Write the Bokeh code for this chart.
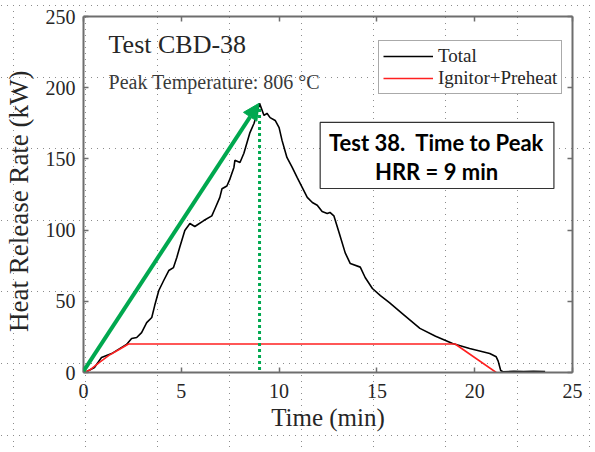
import base64
from bokeh.plotting import figure
from bokeh.models import (LinearAxis, Range1d, Legend, LegendItem, Label,
                          BoxAnnotation, Arrow, NormalHead)
from bokeh.embed import file_html
from bokeh.resources import INLINE

# ---------------- data ----------------
time_total = [0.0, 0.15, 0.56, 0.92, 1.44, 1.85, 2.2, 2.46, 2.72, 2.97, 3.23, 3.49,
              3.64, 3.85, 4.1, 4.36, 4.6, 4.77, 4.92, 5.18, 5.44, 5.69, 6.15, 6.56,
              6.72, 6.97, 7.08, 7.33, 7.49, 7.69, 7.74, 8.0, 8.2, 8.36, 8.51, 8.72,
              8.87, 9.0, 9.23, 9.38, 9.54, 9.8, 10.0, 10.15, 10.4, 10.67, 10.92,
              11.18, 11.44, 11.7, 11.95, 12.2, 12.46, 12.6, 12.8, 13.08, 13.38,
              13.64, 14.15, 14.4, 14.77, 15.18, 15.64, 16.3, 17.2, 18.0, 18.87,
              19.74, 20.77, 21.1, 21.2, 21.33, 21.44, 22.0, 22.5, 23.0, 23.6]
hrr_total = [0.0, 0.5, 3.5, 10.5, 13.3, 16.8, 19.7, 23.9, 24.6, 28.0, 35.0, 38.6,
             47.0, 57.6, 64.6, 71.6, 73.7, 80.8, 88.0, 99.7, 104.6, 102.5, 106.7,
             110.0, 115.0, 123.0, 129.0, 131.0, 136.0, 144.0, 149.0, 147.5, 154.0,
             161.5, 168.5, 175.0, 182.0, 189.0, 180.5, 182.0, 179.0, 177.0, 172.0,
             163.0, 151.0, 144.0, 137.0, 130.0, 123.0, 119.4, 117.5, 113.0, 111.7,
             112.4, 110.0, 97.6, 84.0, 76.5, 74.0, 66.7, 59.0, 54.0, 49.0, 41.4,
             31.0, 25.5, 20.4, 16.9, 13.3, 11.0, 8.0, 1.4, 0.5, 0.8, 0.6, 0.9, 0.6]

time_ign = [0.0, 0.3, 0.8, 1.3, 1.8, 2.3, 19.0, 21.1]
hrr_ign = [0.0, 1.5, 7.0, 12.0, 16.0, 20.0, 20.0, 0.0]

x_ticks = [0, 5, 10, 15, 20, 25]
y_ticks = [0, 50, 100, 150, 200, 250]

peak_time = 9.0
peak_hrr = 189.0

title_text = "Test CBD-38"
peak_temp_text = "Peak Temperature: 806 \u00b0C"
note_line1 = "Test 38.\u00a0 Time to Peak"
note_line2 = "HRR = 9 min"

# ---------------- styles ----------------
GREEN = "#00A84F"
AXIS_COL = "#6e6e6e"
TXT_COL = "#262626"
SERIF = "Liberation Serif"

# dotted overlay grid of the source picture, as a css background tile
tile = ("<svg xmlns='http://www.w3.org/2000/svg' width='72' height='72'>"
        "<line x1='0.5' y1='0' x2='0.5' y2='72' stroke='rgb(140,140,140)' "
        "stroke-width='1' stroke-dasharray='1 5'/>"
        "<line x1='0' y1='0.5' x2='72' y2='0.5' stroke='rgb(140,140,140)' "
        "stroke-width='1' stroke-dasharray='1 5'/></svg>")
b64 = base64.b64encode(tile.encode()).decode()

p = figure(width=595, height=452, x_range=Range1d(0, 25), y_range=Range1d(0, 250),
           output_backend="svg", toolbar_location=None,
           min_border_left=82, min_border_right=23, min_border_top=16,
           min_border_bottom=80)
p.styles = {"background-image": f"url(data:image/svg+xml;base64,{b64})",
            "background-size": "72px 71.6px",
            "background-position": "13px 5px",
            "background-repeat": "repeat"}
p.border_fill_alpha = 0
p.background_fill_alpha = 0
p.outline_line_color = None
p.grid.visible = False


def style_axis(ax, labels=True):
    ax.axis_line_color = AXIS_COL
    ax.axis_line_width = 2
    ax.major_tick_line_color = AXIS_COL
    ax.major_tick_line_width = 1.5
    ax.major_tick_in = 5
    ax.major_tick_out = 0
    ax.minor_tick_in = 0
    ax.minor_tick_out = 0
    ax.minor_tick_line_color = None
    if labels:
        ax.major_label_text_font = SERIF
        ax.major_label_text_font_size = "20px"
        ax.major_label_text_color = TXT_COL
        ax.axis_label_text_font = SERIF
        ax.axis_label_text_font_size = "25px"
        ax.axis_label_text_font_style = "normal"
        ax.axis_label_text_color = TXT_COL
    else:
        ax.major_label_text_font_size = "1px"
        ax.major_label_text_color = None
        ax.major_label_standoff = 0


p.xaxis.ticker = x_ticks
p.yaxis.ticker = y_ticks
style_axis(p.xaxis[0])
style_axis(p.yaxis[0])
p.xaxis.axis_label = "Time (min)"
p.yaxis.axis_label = "Heat Release Rate (kW)\u00a0\u00a0"
p.yaxis.axis_label_text_font_size = "27px"
p.xaxis.major_label_standoff = 11
p.yaxis.major_label_standoff = 8
p.xaxis.axis_label_standoff = 3
p.yaxis.axis_label_standoff = 9

top_ax = LinearAxis(ticker=x_ticks)
right_ax = LinearAxis(ticker=y_ticks)
style_axis(top_ax, labels=False)
style_axis(right_ax, labels=False)
p.add_layout(top_ax, "above")
p.add_layout(right_ax, "right")

r_total = p.line(time_total, hrr_total, line_color="black", line_width=1.6)
r_ign = p.line(time_ign, hrr_ign, line_color="#ff2020", line_width=1.6)

legend = Legend(items=[LegendItem(label="Total", renderers=[r_total]),
                       LegendItem(label="Ignitor+Preheat", renderers=[r_ign])],
                location=(295, 278))
legend.label_text_font = SERIF
legend.label_text_font_size = "19px"
legend.label_text_color = TXT_COL
legend.glyph_width = 50
legend.glyph_height = 20
legend.label_height = 20
legend.label_standoff = 5
legend.spacing = 0
legend.padding = 4
legend.margin = 0
legend.border_line_color = "#555555"
legend.border_line_width = 1.5
legend.background_fill_color = "white"
legend.background_fill_alpha = 1
p.add_layout(legend)

# annotations from the figure
p.add_layout(Label(x=1.28, y=220.5, text=title_text, text_font=SERIF,
                   text_font_size="26px", text_color=TXT_COL))
p.add_layout(Label(x=1.28, y=196.5, text=peak_temp_text, text_font=SERIF,
                   text_font_size="20px", text_color="#3a3a3a"))

# green arrow and dotted peak marker
p.add_layout(Arrow(end=NormalHead(size=16, fill_color=GREEN, line_color=GREEN),
                   x_start=0, y_start=1, x_end=peak_time - 0.03, y_end=peak_hrr,
                   line_color=GREEN, line_width=4))
p.add_layout(Arrow(end=None, x_start=peak_time, y_start=185, x_end=peak_time,
                   y_end=-7.7, line_color=GREEN, line_width=3, line_dash="3 3"))

# note box
p.add_layout(BoxAnnotation(left=12.1, right=24.05, bottom=129.2, top=175.6,
                           fill_color="white", fill_alpha=1, line_color="#333333",
                           line_width=1.2, line_alpha=1))
p.add_layout(Label(x=18.05, y=161.5, text=note_line1, text_font="Lato",
                   text_font_style="bold", text_font_size="22px",
                   text_align="center", text_baseline="middle", text_color="black"))
p.add_layout(Label(x=18.05, y=141.2, text=note_line2, text_font="Lato",
                   text_font_style="bold", text_font_size="22px",
                   text_align="center", text_baseline="middle", text_color="black"))

open("out.html", "w").write(file_html(p, INLINE))
